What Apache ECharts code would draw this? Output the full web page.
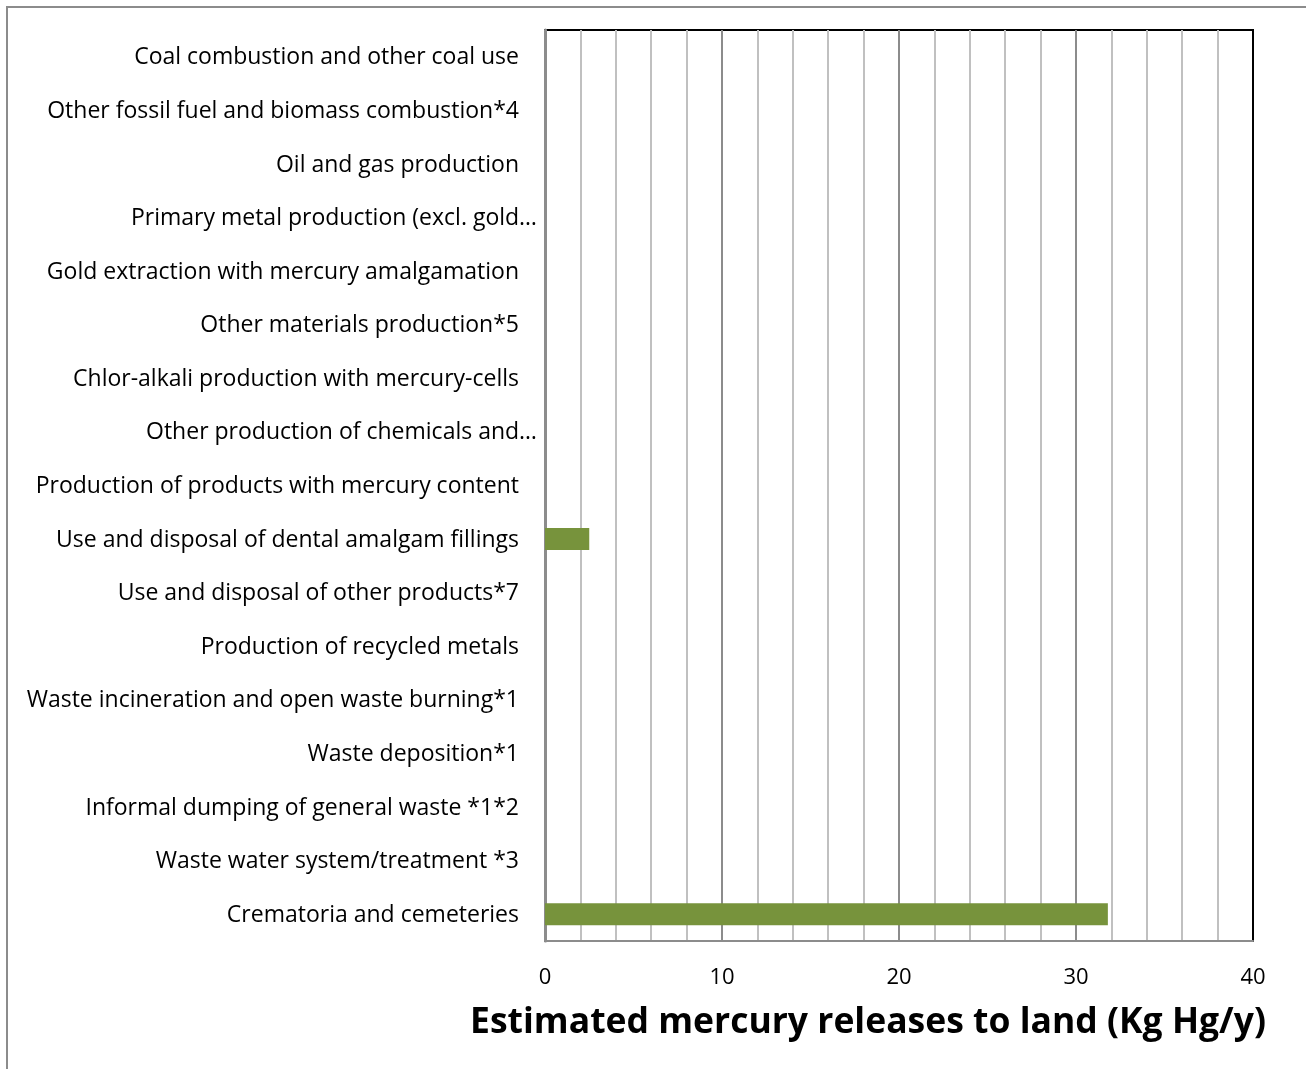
<!DOCTYPE html>
<html>
<head>
<meta charset="utf-8">
<script src="https://cdn.jsdelivr.net/npm/echarts@6/dist/echarts.min.js"></script>
<style>
  html, body { margin: 0; padding: 0; background: #fff; }
  #chart { width: 1306px; height: 1069px; }
</style>
</head>
<body>
<div id="chart"></div>
<script>
// Source categories, top to bottom
const categories = [
  'Coal combustion and other coal use',
  'Other fossil fuel and biomass combustion*4',
  'Oil and gas production',
  'Primary metal production (excl. gold…',
  'Gold extraction with mercury amalgamation',
  'Other materials production*5',
  'Chlor-alkali production with mercury-cells',
  'Other production of chemicals and…',
  'Production of products with mercury content',
  'Use and disposal of dental amalgam fillings',
  'Use and disposal of other products*7',
  'Production of recycled metals',
  'Waste incineration and open waste burning*1',
  'Waste deposition*1',
  'Informal dumping of general waste *1*2',
  'Waste water system/treatment *3',
  'Crematoria and cemeteries'
];

// Estimated releases to land, Kg Hg/y
const releases = [0, 0, 0, 0, 0, 0, 0, 0, 0, 2.5, 0, 0, 0, 0, 0, 0, 31.8];

const xTicks = [0, 10, 20, 30, 40];
const axisTitle = 'Estimated mercury releases to land (Kg Hg/y)';

const FONT = '"Open Sans", sans-serif';

const chart = echarts.init(document.getElementById('chart'), null, { renderer: 'canvas' });

chart.setOption({
  animation: false,
  backgroundColor: '#ffffff',
  grid: {
    left: 545, top: 30, right: 53, bottom: 128,
    show: true, borderColor: '#000000', borderWidth: 2, backgroundColor: 'transparent'
  },
  graphic: [
    {
      type: 'rect', z: -10, silent: true,
      shape: { x: 7, y: 7, width: 1400, height: 1200 },
      style: { fill: 'none', stroke: '#8c8c8c', lineWidth: 2 }
    }
  ],
  title: {
    text: axisTitle,
    right: 35, top: 1000,
    textStyle: { fontFamily: FONT, fontSize: 35.5, fontWeight: 'bold', color: '#000' }
  },
  xAxis: {
    type: 'value',
    min: xTicks[0], max: xTicks[xTicks.length - 1], interval: 10,
    axisLine: { show: true, onZero: false, lineStyle: { color: '#8c8c8c', width: 2 } },
    axisTick: { show: false },
    axisLabel: {
      margin: 26, color: '#000', fontFamily: FONT, fontSize: 22,
      customValues: xTicks
    },
    // major lines grey, outer right edge black like the frame
    splitLine: { show: true, lineStyle: { color: ['#8c8c8c', '#8c8c8c', '#8c8c8c', '#8c8c8c', '#000000'], width: 2 } },
    minorTick: { show: false, splitNumber: 5 },
    minorSplitLine: { show: true, lineStyle: { color: '#c0c0c0', width: 2 } }
  },
  yAxis: {
    type: 'category',
    data: categories,
    inverse: true,
    axisLine: { show: true, lineStyle: { color: '#8c8c8c', width: 3 } },
    axisTick: { show: false },
    axisLabel: {
      margin: 8, color: '#000', fontFamily: FONT, fontSize: 23,
      formatter: function (v) {
        return v.endsWith('…') ? '{t|' + v + '}' : '{n|' + v + '}';
      },
      rich: {
        n: { fontFamily: FONT, fontSize: 23, color: '#000', padding: [2, 18, 0, 0] },
        t: { fontFamily: FONT, fontSize: 23, color: '#000', padding: [2, 0, 0, 0] }
      }
    },
    splitLine: { show: false }
  },
  series: [
    {
      type: 'bar',
      data: releases,
      barWidth: 22,
      itemStyle: { color: '#77933c' }
    }
  ]
});
</script>
</body>
</html>
